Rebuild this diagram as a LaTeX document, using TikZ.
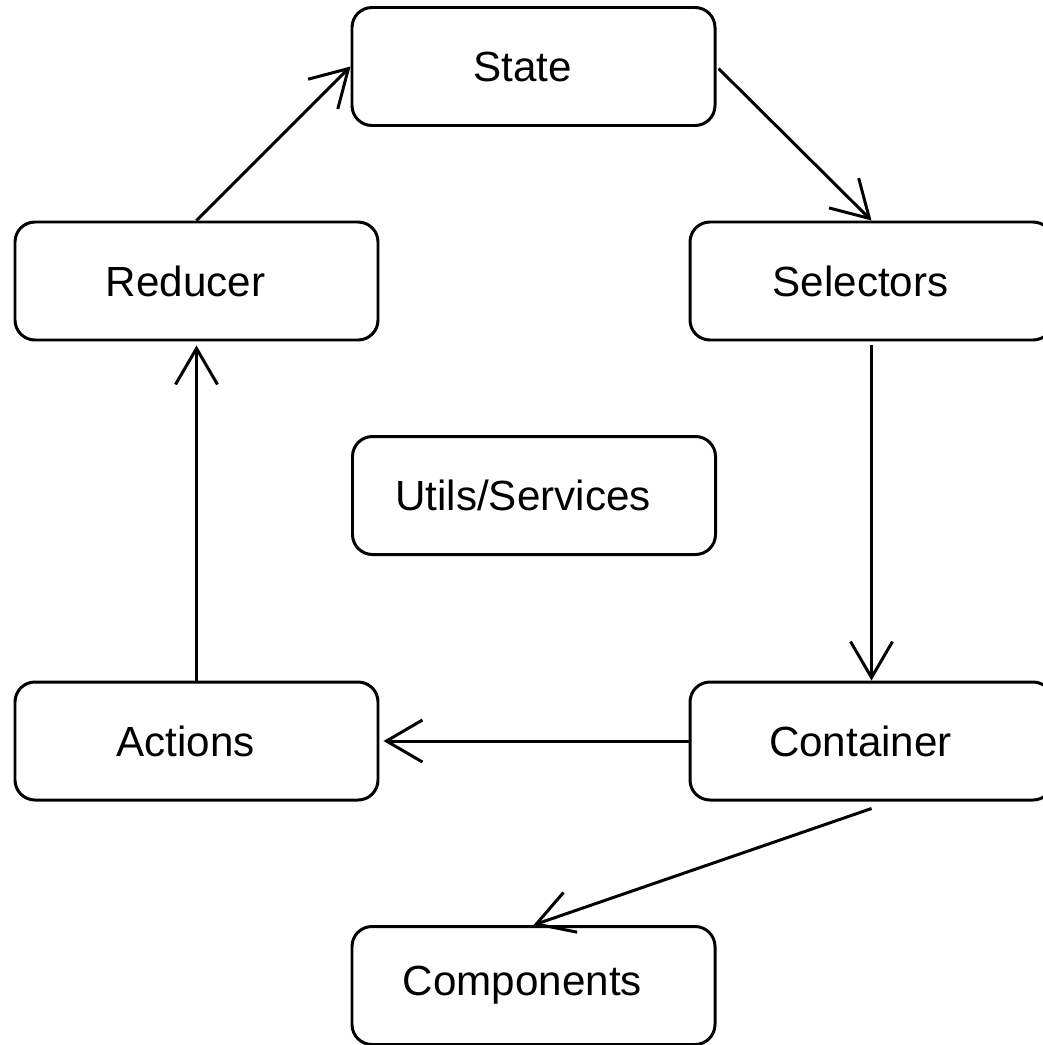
\documentclass[tikz,border=0pt]{standalone}
\usepackage{fontspec}
\setmainfont{Liberation Sans}
\usetikzlibrary{arrows.meta}

\begin{document}
\begin{tikzpicture}[every node/.style={font=\fontsize{12}{14}\selectfont},
    block/.style={draw, line width=0.85pt, rounded corners=0.2cm, minimum width=3.63cm, minimum height=1.18cm,
        execute at end node={\hspace{0.22cm}}},
    flow/.style={line width=0.85pt, -{Straight Barb[length=0.36cm, width=0.42cm]}}]
    \useasboundingbox (0,0) rectangle (10.42,-10.45);
    % Boxes
        \node[block] (state) at (5.335,-0.665) {State};
        \node[block] (reducer) at (1.965,-2.81) {Reducer};
        \node[block] (selectors) at (8.715,-2.81) {Selectors};
        \node[block] (utils) at (5.34,-4.955) {Utils/Services};
        \node[block] (actions) at (1.965,-7.41) {Actions};
        \node[block] (container) at (8.715,-7.41) {Container};
        \node[block] (components) at (5.335,-9.855) {Components};
    % Arrows
        \draw[flow] (reducer.north) -- (state.west);
        \draw[flow, shorten <=0.03cm] (state.east) -- (selectors.north);
        \draw[flow, shorten <=0.04cm] (selectors.south) -- (container.north);
        \draw[flow, shorten >=0.04cm] (container.west) -- (actions.east);
        \draw[flow, shorten >=0.04cm] (actions.north) -- (reducer.south);
        \draw[flow] ([yshift=-0.07cm]container.south) -- (components.north);
\end{tikzpicture}
\end{document}
